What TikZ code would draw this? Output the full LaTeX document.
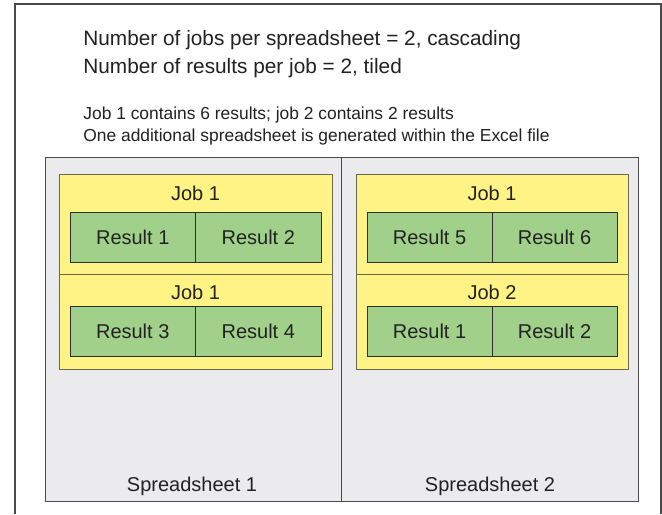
\documentclass[tikz,border=0pt]{standalone}
\usepackage{fontspec}
\setmainfont{Liberation Sans}
\usetikzlibrary{positioning}
\definecolor{sheetgray}{HTML}{EBEBED}
\definecolor{jobyellow}{HTML}{FFF385}
\definecolor{jobedge}{HTML}{6A6752}
\definecolor{resgreen}{HTML}{A0D08A}
\definecolor{resedge}{HTML}{2E2E2E}
\definecolor{framegray}{HTML}{4A4A4A}
\definecolor{txt}{HTML}{222222}
\begin{document}
\begin{tikzpicture}[
        x=0.5pt, y=-0.5pt,
        sheet/.style={rectangle, draw=framegray, fill=sheetgray, minimum height=172pt, inner sep=0pt, line width=0.5pt},
        job/.style={rectangle, draw=jobedge, fill=jobyellow, inner sep=0pt, line width=0.5pt},
        result/.style={rectangle, draw=resedge, fill=resgreen, minimum height=25pt, inner sep=0pt, line width=0.5pt, text=txt, font=\fontsize{10}{12}\selectfont},
        lbl/.style={inner sep=0pt, text=txt, font=\fontsize{10}{12}\selectfont},
        head/.style={anchor=west, inner sep=0pt, text=txt, font=\fontsize{10.4}{12}\selectfont},
        note/.style={anchor=west, inner sep=0pt, text=txt, font=\fontsize{8.7}{10}\selectfont}
    ]
        \useasboundingbox (0,0) rectangle (662,514);
        \fill[white] (0,0) rectangle (662,514);
        \draw[framegray, line width=0.75pt] (15,514) |- (661,4) -- (661,514);

        \node[head] (title1) at (83,40) {Number of jobs per spreadsheet = 2, cascading};
        \node[head] (title2) at (83,68) {Number of results per job = 2, tiled};
        \node[note] (note1) at (83,115) {Job 1 contains 6 results; job 2 contains 2 results};
        \node[note] (note2) at (83,137) {One additional spreadsheet is generated within the Excel file};

        % spreadsheets
        \node[sheet, minimum width=148pt] (ss1) at (193,329) {};
        \node[sheet, minimum width=148.5pt] (ss2) at (489.5,329) {};
        \node[lbl] (ss1lbl) at (192,486) {Spreadsheet 1};
        \node[lbl] (ss2lbl) at (490,486) {Spreadsheet 2};

        % jobs
        \node[job, minimum width=136.5pt, minimum height=50pt] (job11) at (195.5,224) {};
        \node[job, minimum width=136.5pt, minimum height=47.5pt] (job12) at (195.5,321.5) {};
        \node[job, minimum width=136pt, minimum height=50pt] (job21) at (492,224) {};
        \node[job, minimum width=136pt, minimum height=47.5pt] (job22) at (492,321.5) {};
        \node[lbl] (job11lbl) at (195.5,193) {Job 1};
        \node[lbl] (job12lbl) at (195.5,292) {Job 1};
        \node[lbl] (job21lbl) at (492,193) {Job 1};
        \node[lbl] (job22lbl) at (492,292) {Job 2};

        % results
        \node[result, minimum width=62.75pt] (r1) at (132.75,237) {Result 1};
        \node[result, minimum width=62.75pt] (r2) at (258.25,237) {Result 2};
        \node[result, minimum width=62.75pt] (r3) at (132.75,331) {Result 3};
        \node[result, minimum width=62.75pt] (r4) at (258.25,331) {Result 4};
        \node[result, minimum width=62.5pt] (r5) at (429.5,237) {Result 5};
        \node[result, minimum width=62.5pt] (r6) at (554.5,237) {Result 6};
        \node[result, minimum width=62.5pt] (r7) at (429.5,331) {Result 1};
        \node[result, minimum width=62.5pt] (r8) at (554.5,331) {Result 2};
    \end{tikzpicture}
\end{document}
